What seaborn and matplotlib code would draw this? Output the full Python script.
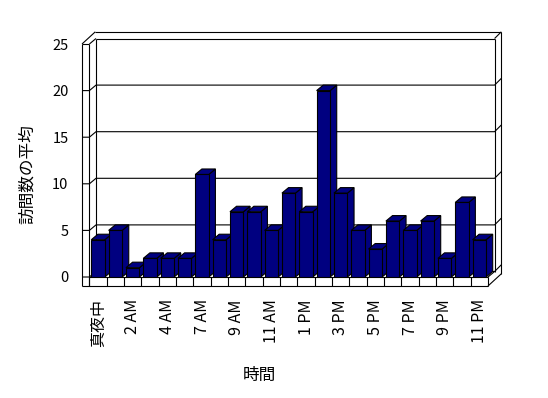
import matplotlib
matplotlib.use("Agg")
import matplotlib.pyplot as plt
import seaborn as sns
import pandas as pd
from matplotlib.patches import Polygon

# ---------------- data ----------------
hours = ["真夜中", "1 AM", "2 AM", "3 AM", "4 AM", "6 AM", "7 AM", "8 AM", "9 AM",
         "10 AM", "11 AM", "12 PM", "1 PM", "2 PM", "3 PM", "4 PM", "5 PM", "6 PM",
         "7 PM", "8 PM", "9 PM", "10 PM", "11 PM"]
visits = [4, 5, 1, 2, 2, 2, 11, 4, 7, 7, 5, 9, 7, 20, 9, 5, 3, 6, 5, 6, 2, 8, 4]
y_ticks = [0, 5, 10, 15, 20, 25]
x_label = "時間"
y_label = "訪問数の平均"

# ---------------- style ----------------
sns.set_style("white")
plt.rcParams["font.family"] = ["Noto Sans CJK JP", "DejaVu Sans"]

NAVY = "#000080"
LW = 0.8

df = pd.DataFrame({"hour": pd.Categorical(hours, categories=hours, ordered=True),
                   "visits": visits})

W, H = 548, 398
fig = plt.figure(figsize=(W / 100, H / 100), dpi=100)
# front plane of the 3-D box (pixels): x 89.4..488, y 44..277 (from top)
L_px, R_px, T_px, B_px = 89.4, 488.0, 44.0, 277.0
ax = fig.add_axes([L_px / W, (H - B_px) / H, (R_px - L_px) / W, (B_px - T_px) / H])

sns.barplot(data=df, x="hour", y="visits", color=NAVY, saturation=1, width=0.78,
            edgecolor="black", linewidth=LW, ax=ax)

n = len(hours)
x0, x1 = -0.5, n - 0.5
ymax = y_ticks[-1]
ax.set_xlim(x0, x1)
ax.set_ylim(0, ymax)
for s in ax.spines.values():
    s.set_visible(False)
ax.patch.set_visible(False)

# depth geometry (data units)
px_x = (R_px - L_px) / n
px_y = (B_px - T_px) / ymax
DX, DY = 6.6 / px_x, 5.5 / px_y          # depth of box / bars
BX, BY = 6.7 / px_x, 6.7 / px_y          # back wall thickness
LWALL = 7.4 / px_x                        # left wall thickness
FT = 9.0 / px_y                           # floor thickness


def line(xs, ys, z=2):
    ax.plot(xs, ys, color="black", lw=LW, clip_on=False, zorder=z,
            solid_capstyle="butt")


# left wall
line([x0 - LWALL, x0 - LWALL], [-FT, ymax])
line([x0, x0], [-FT, ymax])
line([x0 - LWALL, x0], [ymax, ymax])
line([x0 - LWALL, x0 - LWALL + DX + BX], [ymax, ymax + DY + BY])
line([x0, x0 + DX], [ymax, ymax + DY])
# back wall
line([x0 + DX, x0 + DX], [DY, ymax + DY])
line([x1 + DX, x1 + DX], [DY, ymax + DY])
line([x0 + DX, x1 + DX], [ymax + DY, ymax + DY])
line([x0 - LWALL + DX + BX, x1 + DX + BX], [ymax + DY + BY, ymax + DY + BY])
line([x1 + DX, x1 + DX + BX], [ymax + DY, ymax + DY + BY])
line([x1 + DX + BX, x1 + DX + BX], [ymax + DY + BY, -FT + DY + BY])
# gridlines
for v in y_ticks[:-1]:
    line([x0 - LWALL, x0, x0 + DX, x1 + DX, x1 + DX + BX],
         [v, v, v + DY, v + DY, v + DY + BY], z=1.5)
# floor front face
line([x0 - LWALL, x1], [-FT, -FT])
line([x0, x1], [0, 0])
for i in range(n + 1):
    line([x0 + i, x0 + i], [-FT, 0])
line([x1, x1 + DX], [0, DY])
line([x1, x1 + DX + BX], [-FT, -FT + DY + BY])

# 3-D faces of the bars
for i, p in enumerate(ax.patches):
    bx, bw, bh = p.get_x(), p.get_width(), p.get_height()
    z = 10 + 2 * i
    p.set_zorder(z + 1)
    top = Polygon([(bx, bh), (bx + bw, bh), (bx + bw + DX, bh + DY), (bx + DX, bh + DY)],
                  closed=True, facecolor=NAVY, edgecolor="black", lw=LW,
                  zorder=z, clip_on=False)
    side = Polygon([(bx + bw, 0), (bx + bw + DX, DY), (bx + bw + DX, bh + DY), (bx + bw, bh)],
                   closed=True, facecolor=NAVY, edgecolor="black", lw=LW,
                   zorder=z, clip_on=False)
    ax.add_patch(side)
    ax.add_patch(top)

# ticks
idx = list(range(0, n, 2))
ax.set_xticks(idx)
ax.set_xticklabels([hours[i] for i in idx], rotation=90)
ax.set_yticks(y_ticks)
ax.set_yticklabels([str(v) for v in y_ticks])
ax.tick_params(axis="x", length=0, pad=16, labelsize=11.5, colors="black")
ax.tick_params(axis="y", length=0, pad=15, labelsize=10.5, colors="black")

ax.set_xlabel(x_label, fontsize=12, color="black")
ax.set_ylabel(y_label, fontsize=12, color="black")
ax.xaxis.set_label_coords((259 - L_px) / (R_px - L_px), (B_px - 375.5) / (B_px - T_px))
ax.xaxis.label.set_va("center")
ax.yaxis.set_label_coords((27.5 - L_px) / (R_px - L_px), (B_px - 174) / (B_px - T_px))
ax.yaxis.label.set_va("center")

fig.savefig("out.png", dpi=100, facecolor="white")
